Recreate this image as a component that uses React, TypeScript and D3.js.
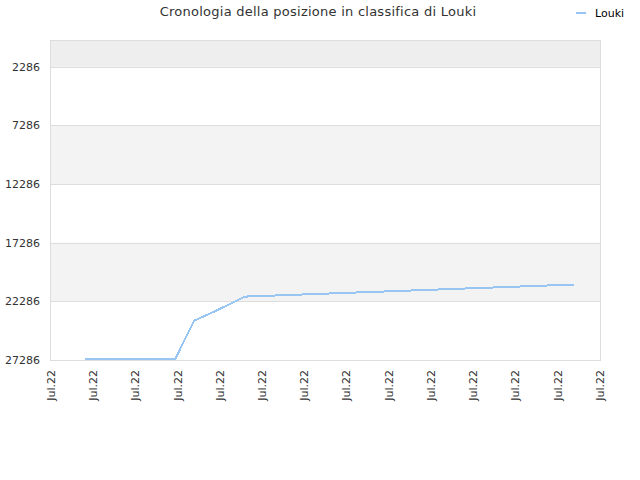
import React from 'react';
import * as d3 from 'd3';

// Rank history (lower rank number = better, drawn at top)
const rankDates = [
    '2022-07-01T19:20',
    '2022-07-03T22:30',
    '2022-07-04T09:25',
    '2022-07-04T22:20',
    '2022-07-05T14:15',
    '2022-07-13T09:15',
];
const rankValues = [27220, 27220, 23930, 23050, 21880, 20850];

const yTicks = [2286, 7286, 12286, 17286, 22286, 27286];
const xDomain = ['2022-07-01T00:00', '2022-07-14T00:00'];
const seriesName = 'Louki';
const title = 'Cronologia della posizione in classifica di Louki';

const W = 640;
const H = 480;
const M = { left: 51, right: 40, top: 40, bottom: 120 };
const FONT = '"DejaVu Sans", sans-serif';
const LINE = '#99c5f2';

export default function App() {
    const parse = d3.isoParse;
    const x = d3.scaleTime()
        .domain(xDomain.map(d => parse(d) as Date))
        .range([M.left, W - M.right]);
    const y = d3.scaleLinear()
        .domain([0, 27286])
        .range([M.top, H - M.bottom]);

    const xTicks = x.ticks(d3.timeDay.every(1)!);
    const fmt = d3.timeFormat('%b.%y');

    const points = rankDates.map((d, i) => [parse(d) as Date, rankValues[i]] as [Date, number]);
    const line = d3.line<[Date, number]>()
        .x(d => x(d[0]))
        .y(d => y(d[1]));

    // alternating bands between tick boundaries, starting grey at the top
    const bounds = [0, ...yTicks];
    const bands = bounds.slice(0, -1).map((b, i) => ({ y0: b, y1: bounds[i + 1], i }));

    return (
        <svg width={W} height={H} style={{ position: 'absolute', left: 0, top: 0, background: '#fff' }}>
            <text x={318} y={16} textAnchor="middle" fontFamily={FONT} fontSize={13} fill="#333"
                letterSpacing={0.25}>
                {title}
            </text>

            {/* legend */}
            <line x1={576} x2={586} y1={13} y2={13} stroke={LINE} strokeWidth={2} />
            <text x={595} y={17} fontFamily={FONT} fontSize={11} fill="#000">{seriesName}</text>

            {bands.filter(b => b.i % 2 === 0).map(b => (
                <rect key={b.i} x={M.left} width={W - M.right - M.left}
                    y={y(b.y0)} height={y(b.y1) - y(b.y0)}
                    fill={b.i === 0 ? '#eeeeee' : '#f3f3f3'} />
            ))}

            {yTicks.map(t => (
                <g key={t}>
                    <line x1={M.left} x2={W - M.right} y1={Math.round(y(t)) + 0.5} y2={Math.round(y(t)) + 0.5}
                        stroke="#dddddd" />
                    <text x={40} y={y(t)} dy="0.35em" textAnchor="end" fontFamily={FONT} fontSize={11} fill="#333">
                        {t}
                    </text>
                </g>
            ))}

            <rect x={M.left - 0.5} y={M.top + 0.5} width={W - M.right - M.left + 1} height={H - M.bottom - M.top}
                fill="none" stroke="#dddddd" />

            <path d={line(points) ?? ''} fill="none" stroke={LINE} strokeWidth={2} shapeRendering="crispEdges" />

            {xTicks.map((t, i) => (
                <text key={i} transform={`translate(${x(t)},${370}) rotate(-90)`} dy="0.35em"
                    textAnchor="end" fontFamily={FONT} fontSize={11} fill="#333">
                    {fmt(t)}
                </text>
            ))}
        </svg>
    );
}
